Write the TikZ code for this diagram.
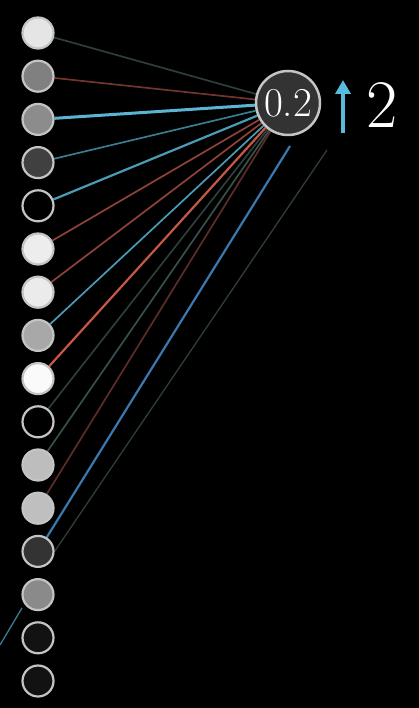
\documentclass[tikz,border=0pt]{standalone}
\usepackage{fontspec}
\usetikzlibrary{arrows.meta}
\definecolor{bluebright}{HTML}{5AB4D2}
\definecolor{bluemid}{HTML}{4A9BB6}
\definecolor{bluedim}{HTML}{3A7C92}
\definecolor{bluedeep}{HTML}{3A78B0}
\definecolor{redbright}{HTML}{C65848}
\definecolor{redmid}{HTML}{8E4238}
\definecolor{reddim}{HTML}{5C2C28}
\definecolor{grn}{HTML}{2E3E3A}
\definecolor{grnb}{HTML}{37504A}
\definecolor{rim}{HTML}{C4C4C4}
\definecolor{arrowblue}{HTML}{5ABCDC}
\pgfdeclarelayer{background}
\pgfsetlayers{background,main}
\begin{document}
\begin{tikzpicture}[x=1pt,y=-1pt,
  neuron/.style={circle,draw=rim,line width=2.2pt,minimum size=31pt,inner sep=0pt},
  outn/.style={circle,draw=rim,line width=2.5pt,fill=black!80,minimum size=64pt,inner sep=0pt,text=white,font=\fontsize{41}{44}\selectfont},
  wire/.style={line width=1.7pt},
  bigtxt/.style={text=white,font=\fontsize{68}{72}\selectfont,inner sep=0pt}]
\useasboundingbox (0,0) rectangle (419,708);
% input neurons
\foreach \i/\g [count=\k] in {1/90,2/50,3/55,4/25,5/0,6/93,7/92,8/66,9/98,10/0,11/74,12/75,13/20,14/54,15/7,16/7}{
  \pgfmathsetmacro{\yy}{33+(\k-1)*43.2}
  \node[neuron,fill=white!\g!black] (n\i) at (38,\yy) {};
}
\node[outn] (out) at (288,103) {0.2};
\coordinate (b13) at (290,146);
\coordinate (g13) at (327,150);
\coordinate (s1) at (0,645);
\coordinate (s2) at (22,608);
\coordinate (atail) at (343,133);
\coordinate (ahead) at (343,80);
\node[bigtxt,anchor=west] (two) at (366,105) {2};
\draw[arrowblue,line width=3.5pt,-{Triangle[length=14pt,width=15pt]}] (atail) -- (ahead);
% background and connectors (behind neurons)
\begin{pgfonlayer}{background}
\fill[black] (0,0) rectangle (419,708);
\draw[wire,grn] (n1) -- (out);
\draw[wire,redmid!80!black] (n2) -- (out);
\draw[wire,bluebright,line width=3pt] (n3) -- (out);
\draw[wire,bluedim] (n4) -- (out);
\draw[wire,bluemid,line width=2.2pt] (n5) -- (out);
\draw[wire,redmid] (n6) -- (out);
\draw[wire,redmid] (n7) -- (out);
\draw[wire,bluemid] (n8) -- (out);
\draw[wire,redbright,line width=2.2pt] (n9) -- (out);
\draw[wire,grn] (n10) -- (out);
\draw[wire,grnb] (n11) -- (out);
\draw[wire,reddim] (n12) -- (out);
\draw[wire,bluedeep,line width=2.2pt] (n13) -- (b13);
\draw[wire,grn,line width=1.3pt] (n13.east) -- (g13);
\draw[wire,bluedim,line width=1.3pt] (s1) -- (s2);
\end{pgfonlayer}
\end{tikzpicture}
\end{document}
